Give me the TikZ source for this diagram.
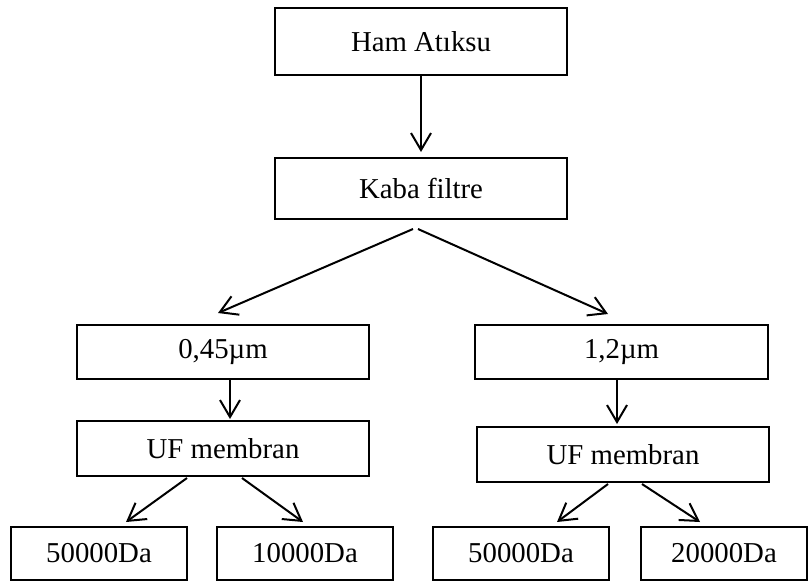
\documentclass[tikz,border=0pt]{standalone}
\usepackage{fontspec}
\setmainfont{Liberation Serif}
\usetikzlibrary{arrows.meta}
\tikzset{
  box/.style={draw, line width=2pt, inner sep=0pt, align=center,
    font=\fontsize{28.8}{34}\selectfont},
  arr/.style={draw, line width=2pt, -{Straight Barb[length=17pt,width=20pt,line width=2pt]}}
}
\begin{document}
\begin{tikzpicture}[x=1pt,y=-1pt]
  \useasboundingbox (0,0) rectangle (810,582);

  % process boxes
  \node[box, minimum width=292pt, minimum height=67pt] (ham)  at (421,41.5)  {Ham Atıksu};
  \node[box, minimum width=292pt, minimum height=61pt] (kaba) at (421,188.5) {Kaba filtre};
  \node[box, minimum width=292pt, minimum height=54pt] (f1)   at (223,352)   {0,45µm};
  \node[box, minimum width=293pt, minimum height=54pt] (f2)   at (621.5,352) {1,2µm};
  \node[box, minimum width=292pt, minimum height=55pt] (uf1)  at (223,448.5) {UF membran};
  \node[box, minimum width=292pt, minimum height=55pt] (uf2)  at (623,454.5) {UF membran};
  \node[box, minimum width=176pt, minimum height=53pt] (d1)   at (99,553.5)  {50000Da};
  \node[box, minimum width=176pt, minimum height=53pt] (d2)   at (305,553.5) {10000Da};
  \node[box, minimum width=176pt, minimum height=53pt] (d3)   at (521,553.5) {50000Da};
  \node[box, minimum width=166pt, minimum height=53pt] (d4)   at (724,553.5) {20000Da};

  % connectors
  \draw[arr] (ham.south) -- ([shift={(0,-5)}]kaba.north);
  \draw[arr] ([shift={(-8,9)}]kaba.south) -- ([shift={(-5,-11)}]f1.north);
  \draw[arr] ([shift={(-3,9)}]kaba.south) -- ([shift={(-13.5,-10)}]f2.north);
  \draw[arr] ([shift={(7,0)}]f1.south) -- ([shift={(7,-1)}]uf1.north);
  \draw[arr] ([shift={(-4.5,0)}]f2.south) -- ([shift={(-6,-2)}]uf2.north);
  \draw[arr] ([shift={(-36,1)}]uf1.south) -- ([shift={(27,-4)}]d1.north);
  \draw[arr] ([shift={(19,1)}]uf1.south) -- ([shift={(-2,-4)}]d2.north);
  \draw[arr] ([shift={(-15,1)}]uf2.south) -- ([shift={(36,-4)}]d3.north);
  \draw[arr] ([shift={(19,1)}]uf2.south) -- ([shift={(-24,-4)}]d4.north);
\end{tikzpicture}
\end{document}
